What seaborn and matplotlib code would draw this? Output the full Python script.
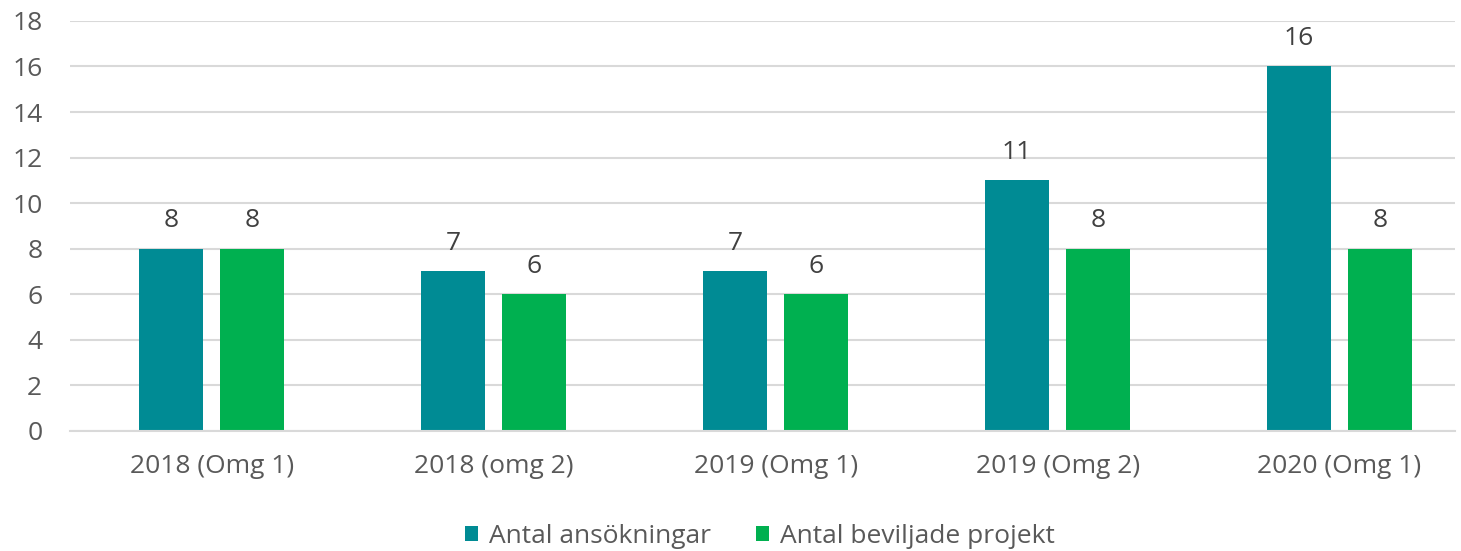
import numpy as np
import pandas as pd
import seaborn as sns
import matplotlib.pyplot as plt

# Data
omgangar = ["2018 (Omg 1)", "2018 (omg 2)", "2019 (Omg 1)", "2019 (Omg 2)", "2020 (Omg 1)"]
ansokningar = [8, 7, 7, 11, 16]
beviljade = [8, 6, 6, 8, 8]
serier = ["Antal ansökningar", "Antal beviljade projekt"]
farger = ["#008B94", "#00B050"]

df = pd.DataFrame({
    "omg": omgangar * 2,
    "antal": ansokningar + beviljade,
    "serie": [serier[0]] * len(omgangar) + [serier[1]] * len(omgangar),
})

sns.set_style("white")
plt.rcParams["font.family"] = ["Open Sans", "DejaVu Sans"]
textfarg = "#595959"

fig = plt.figure(figsize=(14.61, 5.51), dpi=100)
ax = fig.add_axes([0.048, 0.218, 0.948, 0.744])

sns.barplot(data=df, x="omg", y="antal", hue="serie", palette=farger,
            saturation=1, width=0.574, gap=0.21, linewidth=0, ax=ax, legend=True)

for cont in ax.containers:
    ax.bar_label(cont, padding=11, fontsize=19, color="#404040")

ax.set_ylim(0, 18)
ax.set_yticks(range(0, 19, 2))
ax.set_xlim(-0.502, 4.41)
ax.yaxis.grid(True, color="#D9D9D9", linewidth=1.5)
ax.set_axisbelow(True)
for s in ["top", "right", "left"]:
    ax.spines[s].set_visible(False)
ax.spines["bottom"].set_color("#D9D9D9")
ax.spines["bottom"].set_linewidth(1.5)
ax.tick_params(axis="both", length=0, labelsize=19, labelcolor=textfarg)
ax.tick_params(axis="x", pad=17)
ax.tick_params(axis="y", pad=20)
ax.set_xlabel("")
ax.set_ylabel("")

ax.legend(loc="center", bbox_to_anchor=(0.498, -0.258), ncol=2, frameon=False,
          fontsize=19, labelcolor=textfarg, handlelength=0.5, handleheight=0.5,
          handletextpad=0.4, columnspacing=1.7)

fig.savefig("out.png", dpi=100)
